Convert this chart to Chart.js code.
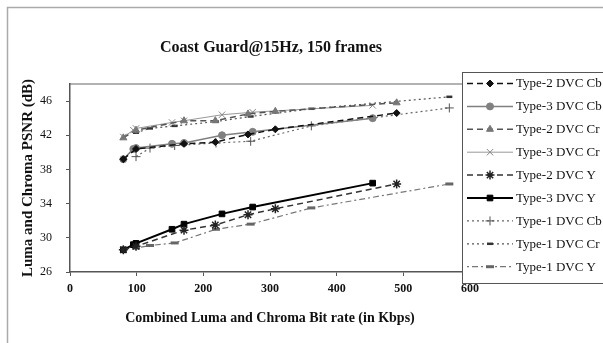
<!DOCTYPE html>
<html lang="en">
<head>
    <meta charset="UTF-8">
    <title>Coast Guard@15Hz, 150 frames</title>
    <script src="https://cdn.jsdelivr.net/npm/chart.js"></script>
    <style>
        html, body { margin: 0; padding: 0; background: #fff; }
        #wrap { width: 603px; height: 343px; position: relative; }
    </style>
</head>
<body>
    <div id="wrap"><canvas id="psnrChart" width="603" height="343"></canvas></div>

    <script>
        // bit rates (Kbps) per codec type
        const type1Rates = [99, 120, 157, 219, 271, 362, 569];
        const type2Rates = [80, 99, 171, 218, 267, 308, 490];
        const type3Rates = [80, 95, 99, 153, 171, 228, 274, 454];

        // PSNR (dB)
        const type2Cb = [39.2, 40.4, 41.0, 41.2, 42.1, 42.7, 44.6];
        const type3Cb = [39.2, 40.4, 40.5, 41.0, 41.1, 42.0, 42.4, 44.0];
        const type2Cr = [41.7, 42.6, 43.7, 43.7, 44.5, 44.8, 45.8];
        const type3Cr = [41.8, 42.6, 42.8, 43.5, 43.7, 44.4, 44.7, 45.5];
        const type2Y = [28.6, 29.0, 30.9, 31.5, 32.7, 33.4, 36.3];
        const type3Y = [28.6, 29.2, 29.35, 31.0, 31.6, 32.8, 33.6, 36.4];
        const type1Cb = [39.5, 40.5, 40.8, 41.1, 41.3, 43.1, 45.2];
        const type1Cr = [42.3, 42.8, 43.1, 43.6, 44.2, 45.1, 46.5];
        const type1Y = [28.8, 29.1, 29.4, 31.0, 31.6, 33.5, 36.3];

        const xTicks = [0, 100, 200, 300, 400, 500, 600];
        const yTicks = [26, 30, 34, 38, 42, 46];

        const chartTitle = 'Coast Guard@15Hz, 150 frames';
        const serif = '"Liberation Serif", "DejaVu Serif", serif';

        function pts(xs, ys) {
            return xs.map((x, i) => ({ x: x, y: ys[i] }));
        }

        function series(label, xs, ys, style) {
            return Object.assign({
                label: label,
                data: pts(xs, ys),
                fill: false,
                tension: 0,
                pointBorderWidth: 1
            }, style);
        }

        const datasets = [
            series('Type-2 DVC Cb', type2Rates, type2Cb, {
                borderColor: '#111', borderWidth: 1.5, borderDash: [6, 4],
                pointStyle: 'rectRot', pointRadius: 3.5, pointBackgroundColor: '#111', pointBorderColor: '#111'
            }),
            series('Type-3 DVC Cb', type3Rates, type3Cb, {
                borderColor: '#808080', borderWidth: 1.5,
                pointStyle: 'circle', pointRadius: 3.5, pointBackgroundColor: '#808080', pointBorderColor: '#808080'
            }),
            series('Type-2 DVC Cr', type2Rates, type2Cr, {
                borderColor: '#555', borderWidth: 1.5, borderDash: [6, 4],
                pointStyle: 'triangle', pointRadius: 4, pointBackgroundColor: '#777', pointBorderColor: '#777'
            }),
            series('Type-3 DVC Cr', type3Rates, type3Cr, {
                borderColor: '#999', borderWidth: 1,
                pointStyle: 'crossRot', pointRadius: 4.5, pointBackgroundColor: '#888', pointBorderColor: '#888'
            }),
            series('Type-2 DVC Y', type2Rates, type2Y, {
                borderColor: '#333', borderWidth: 1.5, borderDash: [6, 4],
                pointStyle: 'star', pointRadius: 4.5, pointBackgroundColor: '#222', pointBorderColor: '#222', pointBorderWidth: 1.5
            }),
            series('Type-3 DVC Y', type3Rates, type3Y, {
                borderColor: '#000', borderWidth: 2,
                pointStyle: 'rect', pointRadius: 4, pointBackgroundColor: '#000', pointBorderColor: '#000'
            }),
            series('Type-1 DVC Cb', type1Rates, type1Cb, {
                borderColor: '#666', borderWidth: 1.2, borderDash: [2, 3],
                pointStyle: 'cross', pointRadius: 4.5, pointBackgroundColor: '#555', pointBorderColor: '#555'
            }),
            series('Type-1 DVC Cr', type1Rates, type1Cr, {
                borderColor: '#555', borderWidth: 1.2, borderDash: [2, 3],
                pointStyle: 'line', pointRadius: 3, pointBackgroundColor: '#333', pointBorderColor: '#333', pointBorderWidth: 2.5
            }),
            series('Type-1 DVC Y', type1Rates, type1Y, {
                borderColor: '#777', borderWidth: 1.2, borderDash: [2, 3, 6, 3],
                pointStyle: 'line', pointRadius: 4, pointBackgroundColor: '#666', pointBorderColor: '#666', pointBorderWidth: 3
            })
        ];

        // outer frame, title, plot border and the boxed legend on the right
        const decorations = {
            id: 'decorations',
            beforeDraw(chart) {
                const ctx = chart.ctx;
                const a = chart.chartArea;
                ctx.save();
                ctx.fillStyle = '#fff';
                ctx.fillRect(0, 0, chart.width, chart.height);
                ctx.strokeStyle = '#aaa';
                ctx.lineWidth = 1.5;
                ctx.strokeRect(7.5, 7.5, 700, 400);
                ctx.strokeStyle = '#999';
                ctx.lineWidth = 1.5;
                ctx.beginPath();
                ctx.moveTo(a.left, a.top);
                ctx.lineTo(a.right, a.top);
                ctx.stroke();
                ctx.fillStyle = '#111';
                ctx.font = 'bold 16px ' + serif;
                ctx.textAlign = 'center';
                ctx.textBaseline = 'middle';
                ctx.fillText(chartTitle, 271, 48);
                ctx.restore();
            },
            afterDraw(chart) {
                const ctx = chart.ctx;
                const boxX = 462.5, boxY = 72.5, rowY0 = 83.5, rowGap = 22.9;
                ctx.save();
                ctx.fillStyle = '#fff';
                ctx.fillRect(boxX, boxY, 200, 211);
                ctx.strokeStyle = '#555';
                ctx.lineWidth = 1;
                ctx.strokeRect(boxX, boxY, 200, 211);
                chart.data.datasets.forEach((ds, i) => {
                    const y = rowY0 + i * rowGap;
                    ctx.save();
                    ctx.strokeStyle = ds.borderColor;
                    ctx.lineWidth = ds.borderWidth;
                    ctx.setLineDash(ds.borderDash || []);
                    ctx.beginPath();
                    ctx.moveTo(467, y);
                    ctx.lineTo(513, y);
                    ctx.stroke();
                    ctx.setLineDash([]);
                    ctx.fillStyle = ds.pointBackgroundColor;
                    ctx.strokeStyle = ds.pointBorderColor;
                    ctx.lineWidth = ds.pointBorderWidth;
                    Chart.helpers.drawPoint(ctx, {
                        pointStyle: ds.pointStyle,
                        radius: ds.pointRadius,
                        rotation: 0,
                        borderWidth: ds.pointBorderWidth
                    }, 490, y);
                    ctx.restore();
                    ctx.fillStyle = '#111';
                    ctx.font = '13px ' + serif;
                    ctx.textBaseline = 'middle';
                    ctx.textAlign = 'left';
                    ctx.fillText(ds.label, 516, y + 0.5);
                });
                ctx.restore();
            }
        };

        const ctx = document.getElementById('psnrChart').getContext('2d');
        new Chart(ctx, {
            type: 'line',
            data: { datasets: datasets },
            plugins: [decorations],
            options: {
                responsive: false,
                animation: false,
                layout: { padding: { left: 8, top: 84, right: 133, bottom: 10 } },
                plugins: {
                    legend: { display: false },
                    tooltip: { enabled: false },
                    title: { display: false }
                },
                scales: {
                    x: {
                        type: 'linear',
                        min: 0,
                        max: 600,
                        afterBuildTicks: (scale) => { scale.ticks = xTicks.map(v => ({ value: v })); },
                        afterFit: (scale) => { scale.height = 61; },
                        grid: { drawOnChartArea: false, drawTicks: true, tickLength: 4, tickColor: '#555' },
                        border: { color: '#555', width: 1.5 },
                        ticks: { color: '#111', padding: 6, maxRotation: 0, font: { family: serif, size: 12, weight: 'bold' } },
                        title: {
                            display: true,
                            text: 'Combined Luma and Chroma Bit rate (in Kbps)',
                            color: '#111',
                            font: { family: serif, size: 14, weight: 'bold' },
                            padding: { top: 0, bottom: 6 }
                        }
                    },
                    y: {
                        min: 26,
                        max: 48,
                        afterBuildTicks: (scale) => { scale.ticks = yTicks.map(v => ({ value: v })); },
                        afterFit: (scale) => { scale.width = 62; },
                        grid: { drawOnChartArea: false, drawTicks: true, tickLength: 4, tickColor: '#555' },
                        border: { color: '#555', width: 1.5 },
                        ticks: { color: '#111', padding: 14, font: { family: serif, size: 12 } },
                        title: {
                            display: true,
                            text: 'Luma and Chroma PSNR (dB)',
                            color: '#111',
                            font: { family: serif, size: 15, weight: 'bold' },
                            padding: { top: 11, bottom: 0 }
                        }
                    }
                }
            }
        });
    </script>
</body>
</html>
